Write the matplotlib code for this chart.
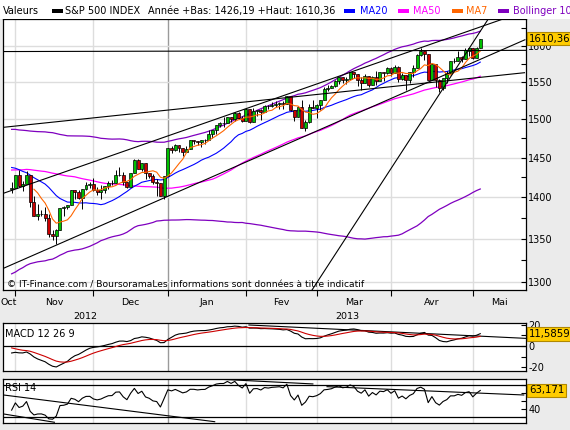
import matplotlib
matplotlib.use("Agg")
import matplotlib.pyplot as plt
import numpy as np
import pandas as pd
from matplotlib.patches import Rectangle
from matplotlib.ticker import FixedLocator, NullFormatter, FuncFormatter

plt.rcParams["font.family"] = "DejaVu Sans"
plt.rcParams["axes.unicode_minus"] = False

# S&P 500 INDEX, daily candles 31 Oct 2012 -> 3 May 2013
holidays = ["2012-11-22", "2012-12-25", "2013-01-01", "2013-01-21",
            "2013-02-18", "2013-03-29"]
dates = pd.bdate_range("2012-10-31", "2013-05-03", freq="C", holidays=holidays)

opens = [1410.99, 1412.20, 1427.59, 1414.02, 1417.26, 1428.27, 1394.53, 1377.55, 1379.86, 1380.03,
         1374.64, 1355.41, 1353.36, 1359.88, 1386.82, 1387.79, 1391.03, 1409.15, 1406.29, 1398.77,
         1409.96, 1415.95, 1416.34, 1409.46, 1407.05, 1409.43, 1413.95, 1418.07, 1418.55, 1427.84,
         1428.48, 1419.45, 1413.54, 1430.47, 1446.79, 1435.81, 1443.67, 1430.15, 1426.66, 1419.83,
         1418.10, 1402.43, 1426.19, 1462.42, 1459.37, 1466.47, 1461.89, 1457.15, 1461.02, 1472.12,
         1472.05, 1470.67, 1472.33, 1472.63, 1480.95, 1485.98, 1492.56, 1494.81, 1494.82, 1502.96,
         1500.18, 1507.84, 1501.96, 1498.11, 1513.17, 1495.71, 1511.29, 1512.12, 1509.39, 1517.93,
         1517.01, 1519.43, 1520.33, 1521.38, 1519.79, 1530.94, 1511.95, 1502.42, 1515.60, 1487.85,
         1496.94, 1515.99, 1514.68, 1518.20, 1525.20, 1539.79, 1541.46, 1544.26, 1551.15, 1556.22,
         1552.48, 1554.52, 1563.21, 1560.70, 1552.10, 1548.34, 1558.71, 1545.90, 1556.89, 1551.69,
         1563.75, 1562.86, 1569.18, 1562.17, 1570.25, 1553.69, 1559.98, 1553.26, 1563.11, 1568.61,
         1587.73, 1593.30, 1588.84, 1552.36, 1574.57, 1552.03, 1541.61, 1555.25, 1562.50, 1578.78,
         1578.93, 1585.16, 1582.34, 1593.58, 1597.55, 1582.77, 1597.60]
highs = [1418.76, 1428.35, 1434.27, 1419.90, 1433.38, 1428.27, 1401.23, 1391.39, 1384.87, 1388.81,
         1380.13, 1360.62, 1362.03, 1386.89, 1389.77, 1391.25, 1409.16, 1409.15, 1409.01, 1410.31,
         1419.70, 1418.86, 1423.73, 1413.14, 1415.56, 1413.95, 1420.34, 1421.64, 1434.27, 1438.59,
         1431.36, 1419.45, 1430.67, 1448.00, 1447.75, 1443.70, 1443.67, 1430.15, 1429.42, 1422.80,
         1418.10, 1426.74, 1462.43, 1465.47, 1467.94, 1466.47, 1461.89, 1464.73, 1472.30, 1472.75,
         1472.05, 1473.31, 1473.96, 1485.16, 1485.98, 1492.56, 1496.13, 1502.27, 1503.26, 1503.23,
         1509.35, 1509.94, 1504.19, 1514.41, 1513.17, 1514.96, 1512.53, 1512.90, 1518.31, 1518.31,
         1522.29, 1524.69, 1523.14, 1524.24, 1530.94, 1530.94, 1511.95, 1515.64, 1525.84, 1498.99,
         1520.08, 1525.34, 1519.99, 1525.27, 1543.47, 1545.25, 1545.78, 1552.48, 1556.27, 1556.77,
         1556.39, 1563.32, 1563.62, 1560.70, 1557.25, 1561.56, 1558.71, 1557.74, 1564.91, 1563.95,
         1564.07, 1570.28, 1570.57, 1573.66, 1571.47, 1562.60, 1559.98, 1563.07, 1573.89, 1589.07,
         1597.35, 1593.30, 1588.84, 1575.35, 1574.57, 1554.38, 1555.89, 1565.55, 1579.58, 1583.00,
         1592.64, 1585.78, 1596.65, 1597.57, 1597.55, 1598.60, 1610.36]
lows = [1405.95, 1412.20, 1412.91, 1408.13, 1417.26, 1388.14, 1377.51, 1373.03, 1377.19, 1370.78,
        1352.50, 1348.05, 1343.35, 1359.88, 1377.04, 1386.39, 1391.03, 1397.68, 1398.03, 1385.43,
        1409.04, 1411.63, 1408.46, 1403.65, 1398.23, 1405.93, 1410.90, 1415.64, 1418.55, 1426.76,
        1416.00, 1411.88, 1413.54, 1430.47, 1435.80, 1432.82, 1422.58, 1424.66, 1416.43, 1401.80,
        1401.58, 1398.11, 1426.19, 1455.53, 1458.99, 1456.62, 1451.64, 1457.15, 1461.02, 1467.58,
        1465.69, 1463.76, 1467.60, 1472.63, 1475.81, 1481.16, 1489.90, 1489.46, 1494.82, 1496.33,
        1498.09, 1500.11, 1496.76, 1498.11, 1495.02, 1495.71, 1504.71, 1498.49, 1509.39, 1513.61,
        1515.61, 1515.93, 1514.02, 1514.14, 1519.79, 1511.41, 1497.29, 1502.42, 1487.85, 1485.01,
        1494.88, 1514.46, 1501.48, 1512.29, 1525.20, 1538.11, 1541.46, 1542.94, 1547.36, 1548.24,
        1547.25, 1554.52, 1555.74, 1545.13, 1538.57, 1548.34, 1543.55, 1545.90, 1546.22, 1551.69,
        1551.90, 1561.08, 1558.47, 1562.17, 1549.80, 1552.52, 1539.50, 1548.63, 1556.89, 1568.61,
        1586.17, 1579.97, 1552.28, 1552.36, 1543.69, 1536.03, 1539.40, 1548.19, 1562.50, 1575.80,
        1578.93, 1577.56, 1582.34, 1586.50, 1581.28, 1582.77, 1597.60]
closes = [1412.16, 1427.59, 1414.20, 1417.26, 1428.39, 1394.53, 1377.51, 1379.85, 1380.03, 1374.53,
          1355.49, 1353.33, 1359.88, 1386.89, 1387.81, 1391.03, 1409.15, 1406.29, 1398.94, 1409.93,
          1415.95, 1416.18, 1409.46, 1407.05, 1409.28, 1413.94, 1418.07, 1418.55, 1427.84, 1428.48,
          1419.45, 1413.58, 1430.36, 1446.79, 1435.81, 1443.69, 1430.15, 1426.66, 1419.83, 1418.10,
          1402.43, 1426.19, 1462.42, 1459.37, 1466.47, 1461.89, 1457.15, 1461.02, 1472.12, 1472.05,
          1470.68, 1472.34, 1472.63, 1480.94, 1485.98, 1492.56, 1494.81, 1494.82, 1502.96, 1500.18,
          1507.84, 1501.96, 1498.11, 1513.17, 1495.71, 1511.29, 1512.12, 1509.39, 1517.93, 1517.01,
          1519.43, 1520.33, 1521.38, 1519.79, 1530.94, 1511.95, 1502.42, 1515.60, 1487.85, 1496.94,
          1515.99, 1514.68, 1518.20, 1525.20, 1539.79, 1541.46, 1544.26, 1551.18, 1556.22, 1552.48,
          1554.52, 1563.23, 1560.70, 1552.10, 1548.34, 1558.71, 1545.80, 1556.89, 1551.69, 1563.77,
          1562.85, 1569.19, 1562.17, 1570.25, 1553.69, 1559.98, 1553.28, 1563.07, 1568.61, 1587.73,
          1593.37, 1588.85, 1552.36, 1574.57, 1552.01, 1541.61, 1555.25, 1562.50, 1578.78, 1578.79,
          1585.16, 1582.24, 1593.61, 1597.57, 1582.70, 1597.59, 1610.36]

# closes 8 Jun - 26 Oct 2012, only used to warm up the indicators
closes_before = [1325.66, 1308.93, 1324.18, 1314.88, 1329.10, 1342.84, 1344.78, 1357.98, 1355.69, 1325.51,
                 1335.02, 1313.72, 1319.99, 1331.85, 1329.04, 1362.16, 1365.51, 1374.02, 1367.58, 1354.68,
                 1352.46, 1341.47, 1341.45, 1334.76, 1356.78, 1353.64, 1363.67, 1372.78, 1376.51, 1362.66,
                 1350.52, 1338.31, 1337.89, 1360.02, 1385.97, 1385.30, 1379.32, 1375.32, 1365.00, 1390.99,
                 1394.23, 1401.35, 1402.22, 1402.80, 1405.87, 1404.11, 1403.93, 1405.53, 1415.51, 1418.16,
                 1418.13, 1413.17, 1413.49, 1402.08, 1411.13, 1410.44, 1409.30, 1410.49, 1399.48, 1406.58,
                 1404.94, 1403.44, 1432.12, 1437.92, 1429.08, 1433.56, 1436.56, 1459.99, 1465.77, 1461.19,
                 1459.32, 1461.05, 1460.26, 1460.15, 1456.89, 1441.59, 1433.32, 1447.15, 1440.67, 1444.49,
                 1445.75, 1450.99, 1461.40, 1460.93, 1455.88, 1441.48, 1432.56, 1432.84, 1428.59, 1440.13,
                 1454.92, 1460.91, 1457.34, 1433.19, 1433.82, 1413.11, 1408.75, 1412.97, 1411.94]

year_low, year_high = 1426.19, 1610.36
last_macd = 11.5859
last_rsi = 63.171

# hand drawn trend lines: (day index, value) -> (day index, value)
price_lines = [(-2.4, 1592.1, 138.3, 1593.8),
               (-2.2, 1489.3, 137.9, 1562.7),
               (-2.2, 1405.2, 131.9, 1638.0),
               (-2.2, 1315.3, 138.0, 1608.7),
               (80.8, 1290.6, 128.1, 1638.0)]
macd_lines = [(63.8, 19.8, 138.2, 7.2)]
rsi_lines = [(-2.2, 57.5, 54.6, 24.1),
             (-2.2, 33.8, 11.5, 23.4),
             (50.7, 78.4, 81.0, 71.3),
             (84.8, 67.9, 137.7, 57.5)]

month_names = ["Oct", "Nov", "Dec", "Jan", "Fev", "Mar", "Avr", "Mai"]

# ---- indicators ----
full = pd.Series(closes_before + closes)
nb = len(closes_before)
ma7 = pd.Series(closes).rolling(7).mean().to_numpy()
ma20 = full.rolling(20).mean().iloc[nb:].to_numpy()
ma50 = full.rolling(50).mean().iloc[nb:].to_numpy()
mid = full.rolling(100).mean()
sd = full.rolling(100).std(ddof=0)
bb_up = (mid + 2 * sd).iloc[nb:].to_numpy()
bb_lo = (mid - 2 * sd).iloc[nb:].to_numpy()
macd_full = full.ewm(span=12, adjust=False).mean() - full.ewm(span=26, adjust=False).mean()
signal = macd_full.ewm(span=9, adjust=False).mean().iloc[nb:].to_numpy()
macd = macd_full.iloc[nb:].to_numpy()
delta = full.diff()
gain = delta.clip(lower=0).ewm(alpha=1 / 14, adjust=False).mean()
loss = (-delta.clip(upper=0)).ewm(alpha=1 / 14, adjust=False).mean()
rsi = (100 - 100 / (1 + gain / loss)).iloc[nb:].to_numpy()

# ---- layout (pixel boxes) ----
W, H = 570, 430
BG = "#ebebeb"
GRID = "#dddddd"


def box(x0, y0, x1, y1):
    return [x0 / W, 1 - y1 / H, (x1 - x0) / W, (y1 - y0) / H]


fig = plt.figure(figsize=(W / 100, H / 100), dpi=100, facecolor=BG)
fig.patches.append(Rectangle((0, 1 - 19 / H), 1, 19 / H, transform=fig.transFigure,
                             facecolor="white", edgecolor="none", zorder=0))

ax = fig.add_axes(box(2.7, 19.3, 526, 290))
ax_m = fig.add_axes(box(2.7, 323.3, 526, 371))
ax_r = fig.add_axes(box(2.7, 379.3, 526, 423.3))

x = np.arange(len(closes))
xlim = (-2.4, 138.3)
month_start = [i for i in range(1, len(dates)) if dates[i].month != dates[i - 1].month]
year_start = [i for i in month_start if dates[i].month == 1]

for a in (ax, ax_m, ax_r):
    a.set_xlim(*xlim)
    a.set_facecolor("white")
    for s in a.spines.values():
        s.set_color("black")
        s.set_linewidth(0.9)
    for m in month_start:
        a.axvline(m, color="#9a9a9a" if m in year_start else GRID, lw=1, zorder=0)
    a.yaxis.tick_right()
    a.tick_params(axis="y", which="both", direction="in", labelsize=7, pad=1.5,
                  colors="black", width=0.8)
    a.tick_params(axis="y", which="major", length=3.5)
    a.tick_params(axis="y", which="minor", length=3.5)
    a.set_xticks(month_start)
    a.set_xticklabels([])
    a.tick_params(axis="x", length=0)

# ---- main price panel ----
ax.set_yscale("log")
ax.set_ylim(1290.4, 1638.0)
ax.yaxis.set_major_locator(FixedLocator([1300, 1350, 1400, 1450, 1500, 1550, 1600]))
ax.yaxis.set_minor_locator(FixedLocator([1325, 1375, 1425, 1475, 1525, 1575, 1625]))
ax.yaxis.set_major_formatter(FuncFormatter(lambda v, p: "%d" % round(v)))
ax.yaxis.set_minor_formatter(NullFormatter())
ax.tick_params(axis="x", direction="out", length=4, width=0.8)
for v in [1300, 1350, 1400, 1450, 1500, 1550, 1600]:
    ax.axhline(v, color=GRID, lw=1, zorder=0)

ax.plot(x, bb_up, color="#7f00bf", lw=0.9, zorder=2)
ax.plot(x, bb_lo, color="#7f00bf", lw=0.9, zorder=2)
ax.plot(x, ma50, color="#ff00ff", lw=0.9, zorder=2)
ax.plot(x, ma20, color="#0000ff", lw=0.8, zorder=2)
ax.plot(x, ma7, color="#ff6600", lw=0.8, zorder=5)

o, h, l, c = (np.array(v) for v in (opens, highs, lows, closes))
up = c >= o
ax.vlines(x, l, h, color="black", lw=0.7, zorder=3)
ax.bar(x[up], (c - o)[up], bottom=o[up], width=0.8, color="#00c000",
       edgecolor="black", lw=0.5, zorder=4)
ax.bar(x[~up], (o - c)[~up], bottom=c[~up], width=0.8, color="#cc0000",
       edgecolor="black", lw=0.5, zorder=4)

for i0, v0, i1, v1 in price_lines:
    ax.plot([i0, i1], [v0, v1], color="black", lw=0.8, zorder=6)

ax.text(0.008, 0.02, "\u00a9 IT-Finance.com / BoursoramaLes informations sont données à titre indicatif",
        transform=ax.transAxes, fontsize=6.6, va="center", ha="left", zorder=7)

# ---- MACD panel ----
ax_m.set_ylim(-23.6, 21.4)
ax_m.yaxis.set_major_locator(FixedLocator([-20, 0, 20]))
ax_m.yaxis.set_minor_locator(FixedLocator([-10, 10]))
ax_m.yaxis.set_major_formatter(FuncFormatter(lambda v, p: "%d" % v))
ax_m.axhline(0, color="black", lw=0.9, zorder=1)
ax_m.plot(x, macd, color="black", lw=0.8, zorder=3)
ax_m.plot(x, signal, color="#cc0000", lw=0.8, zorder=3)
for i0, v0, i1, v1 in macd_lines:
    ax_m.plot([i0, i1], [v0, v1], color="black", lw=0.8, zorder=2)
ax_m.text(0.005, 0.77, "MACD 12 26 9", transform=ax_m.transAxes, fontsize=7, va="center")

# ---- RSI panel ----
ax_r.set_ylim(22.1, 77.1)
ax_r.yaxis.set_major_locator(FixedLocator([40, 60]))
ax_r.yaxis.set_minor_locator(FixedLocator([30, 50, 70]))
ax_r.yaxis.set_major_formatter(FuncFormatter(lambda v, p: "%d" % v))
ax_r.axhline(70, color="black", lw=0.9, zorder=1)
ax_r.axhline(30, color="black", lw=0.9, zorder=1)
ax_r.plot(x, rsi, color="black", lw=0.8, zorder=3)
for i0, v0, i1, v1 in rsi_lines:
    ax_r.plot([i0, i1], [v0, v1], color="black", lw=0.8, zorder=2)
ax_r.text(0.005, 0.8, "RSI 14", transform=ax_r.transAxes, fontsize=7, va="center")

# ---- last value boxes on the right ----
yellow = dict(boxstyle="square,pad=0.18", facecolor="#ffcc00", edgecolor="#b08800", lw=0.8)
for a, val, txt in [(ax, year_high, "%.2f" % year_high),
                    (ax_m, last_macd, "%.4f" % last_macd),
                    (ax_r, last_rsi, "%.3f" % last_rsi)]:
    a.annotate(txt.replace(".", ","), xy=(1, val), xycoords=("axes fraction", "data"),
               xytext=(2, 0), textcoords="offset points", fontsize=7.3, va="center",
               ha="left", bbox=yellow, annotation_clip=False, zorder=10)

# ---- month / year labels under the price panel ----
bounds = [xlim[0]] + month_start + [xlim[1]]
for k, name in enumerate(month_names):
    xc = (bounds[k] + bounds[k + 1]) / 2
    ax.text(xc, -0.045, name, transform=ax.get_xaxis_transform(), fontsize=6.8,
            ha="center", va="center")
ybounds = [xlim[0]] + year_start + [xlim[1]]
for k, yr in enumerate(["2012", "2013"]):
    xc = (ybounds[k] + ybounds[k + 1]) / 2
    ax.text(xc, -0.098, yr, transform=ax.get_xaxis_transform(), fontsize=6.8,
            ha="center", va="center")

# ---- header ----
yh = 1 - 11 / H
fig.text(3 / W, yh, "Valeurs", fontsize=7, va="center")
header_items = [(52, "black", 65, "S&P 500 INDEX"),
                (344, "#0000ff", 360, "MA20"),
                (398, "#ff00ff", 413, "MA50"),
                (452, "#ff6600", 466, "MA7"),
                (498, "#7f00bf", 513, "Bollinger 10")]
for bx, col, tx, label in header_items:
    fig.patches.append(Rectangle((bx / W, yh - 2 / H), 11 / W, 4 / H, transform=fig.transFigure,
                                 facecolor=col, edgecolor="none", zorder=3))
    fig.text(tx / W, yh, label, fontsize=7, va="center",
             color="black" if col == "black" else col)
fig.text(148 / W, yh, "Année +Bas: %s +Haut: %s" % (("%.2f" % year_low).replace(".", ","),
                                                    ("%.2f" % year_high).replace(".", ",")),
         fontsize=7, va="center")

fig.savefig("out.png", dpi=100, facecolor=BG)
